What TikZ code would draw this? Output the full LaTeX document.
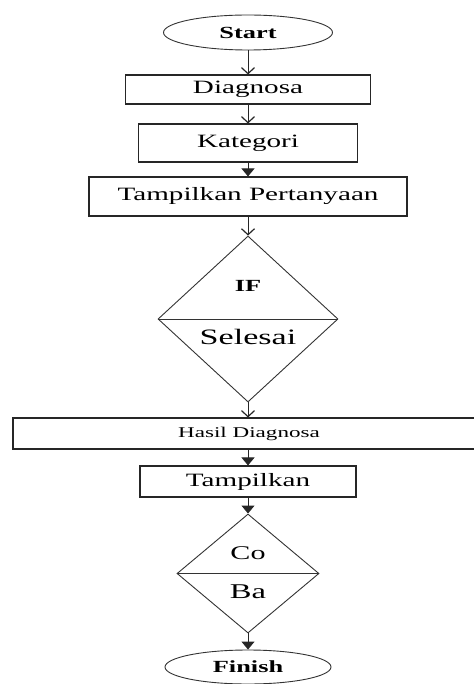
\documentclass[tikz,border=0pt]{standalone}
\usepackage{fontspec}
\setmainfont[FakeStretch=1.55]{Liberation Serif}
\usetikzlibrary{arrows.meta, shapes.geometric}

\begin{document}
\begin{tikzpicture}[x=1pt, y=-1pt,
    terminal/.style={draw=black!80, ellipse, inner sep=0pt, line width=0.9pt, font=\bfseries\fontsize{17}{17}\selectfont},
    process/.style={draw=black!85, rectangle, inner sep=0pt, line width=1.1pt, font=\fontsize{18.8}{18.8}\selectfont},
    decision/.style={draw=black!80, diamond, inner sep=0pt, line width=0.9pt},
    arrow/.style={-{Straight Barb[length=6pt,width=13pt,line width=1.2pt]}, line width=1pt, black!85},
    arrow_fill/.style={-{Triangle[length=8pt,width=13pt]}, line width=1pt, black!85}
]
\useasboundingbox (0,0) rectangle (473,684);

\node[terminal, minimum width=169pt, minimum height=35pt] (start) at (248,32.5) {Start};
\node[process, minimum width=245pt, minimum height=29pt] (diag) at (248,89.5) {Diagnosa};
\node[process, minimum width=219pt, minimum height=38pt] (kat) at (248,143) {Kategori};
\node[process, minimum width=318pt, minimum height=39pt] (tanya) at (248,196.5) {Tampilkan Pertanyaan};

% first decision
\node[decision, minimum width=180pt, minimum height=166pt] (if) at (248,319) {};
\draw[line width=0.9pt, black!80] (if.west) -- (if.east);
\node[font=\bfseries\fontsize{17}{17}\selectfont] (iftext) at (248,286) {IF};
\node[font=\fontsize{22}{22}\selectfont] (selesai) at (248,337) {Selesai};

\node[process, minimum width=472pt, minimum height=31pt, font=\fontsize{14.9}{14.9}\selectfont] (hasil) at (249,433.5) {Hasil Diagnosa};
\node[process, minimum width=216pt, minimum height=31pt] (tampil) at (248,481.5) {Tampilkan};

% second decision
\node[decision, minimum width=142pt, minimum height=119pt] (cb) at (248,573.5) {};
\draw[line width=0.9pt, black!80] (cb.west) -- (cb.east);
\node[font=\fontsize{19.4}{19.4}\selectfont] (co) at (248,553) {Co};
\node[font=\fontsize{21}{21}\selectfont] (ba) at (248,592) {Ba};

\node[terminal, minimum width=166pt, minimum height=34pt] (finish) at (248,667) {Finish};

% open arrows
\draw[arrow] (start) -- (diag);
\draw[arrow] (diag) -- (kat);
\draw[arrow] (tanya) -- (if);
\draw[arrow] (if) -- (hasil.north -| if.south);

% filled arrows
\draw[arrow_fill] (kat) -- (tanya);
\draw[arrow_fill] (hasil.south -| tampil.north) -- (tampil);
\draw[arrow_fill] (tampil) -- (cb);
\draw[arrow_fill] (cb) -- (finish);

\end{tikzpicture}
\end{document}
